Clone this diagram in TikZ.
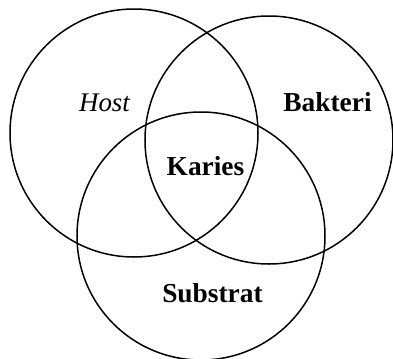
\documentclass[tikz,border=0pt]{standalone}
\usepackage{fontspec}
\setmainfont{Liberation Serif}
\begin{document}
\begin{tikzpicture}[x=1bp,y=-1bp,
  ring/.style={circle,draw=black,line width=1.5bp,minimum size=248bp,inner sep=0pt},
  lbl/.style={anchor=base,inner sep=0pt,font=\fontsize{27.5}{30}\selectfont\bfseries},
  ilbl/.style={anchor=base,inner sep=0pt,font=\fontsize{27}{30}\selectfont\itshape}]
\useasboundingbox (0,0) rectangle (393,359);
\node[ring] (chost) at (134,133) {};
\node[ring] (cbak) at (269,140) {};
\node[ring] (csub) at (201,236) {};
\node[ilbl] (host) at (104.5,111) {Host};
\node[lbl] (bakteri) at (327.5,111) {Bakteri};
\node[lbl] (karies) at (205.5,175) {Karies};
\node[lbl] (substrat) at (212.5,302) {Substrat};
\end{tikzpicture}
\end{document}
